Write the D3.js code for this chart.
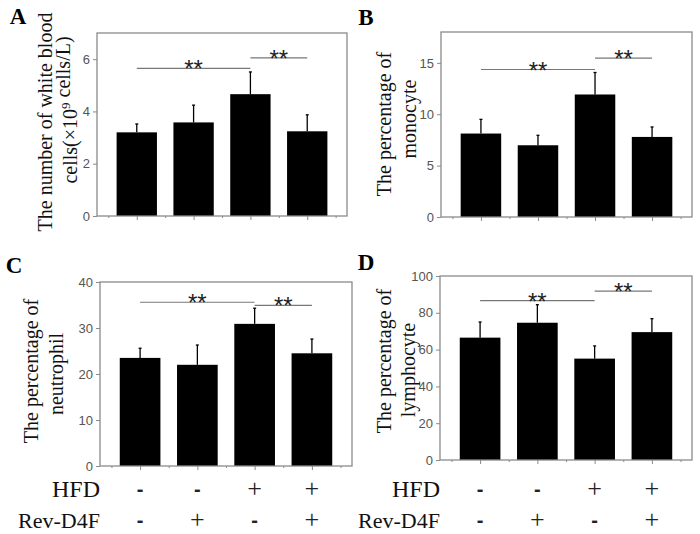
<!DOCTYPE html>
<html><head><meta charset="utf-8">
<script src="https://cdn.jsdelivr.net/npm/d3@7"></script>
<style>body{margin:0;background:#fff}svg{display:block}</style>
</head><body>
<script>
// ---- data ----
const groups = ["HFD-/Rev-", "HFD-/Rev+", "HFD+/Rev-", "HFD+/Rev+"];
const hfdSigns = ["-", "-", "+", "+"];
const revSigns = ["-", "+", "-", "+"];

const wbcMean = [3.2, 3.58, 4.66, 3.24];
const wbcErr  = [0.32, 0.66, 0.85, 0.63];
const wbcTicks = [0, 2, 4, 6];

const monoMean = [8.12, 6.98, 11.92, 7.79];
const monoErr  = [1.38, 0.97, 2.14, 0.97];
const monoTicks = [0, 5, 10, 15];

const neutMean = [23.5, 22.0, 30.9, 24.5];
const neutErr  = [2.1, 4.3, 3.4, 3.1];
const neutTicks = [0, 10, 20, 30, 40];

const lymphMean = [66.5, 74.6, 55.1, 69.5];
const lymphErr  = [8.5, 9.8, 6.9, 7.3];
const lymphTicks = [0, 20, 40, 60, 80, 100];

// significance brackets: [from group, to group, value level]
const wbcSig = [[0, 2, 5.65], [2, 3, 6.05]];
const monoSig = [[0, 2, 14.35], [2, 3, 15.45]];
const neutSig = [[0, 2, 35.6], [2, 3, 34.9]];
const lymphSig = [[0, 2, 86.6], [2, 3, 91.8]];

const panels = [
  {letter: "A", mean: wbcMean, err: wbcErr, ticks: wbcTicks, ymax: 7, sig: wbcSig,
   title: [["The number of white blood"], ["cells(×10", {sup: "9"}, " cells/L)"]],
   box: {l: 97, r: 347, t: 33, b: 216}, letterPos: [18, 24], titleX: [52, 77], titleY: [122, 110]},
  {letter: "B", mean: monoMean, err: monoErr, ticks: monoTicks, ymax: 18, sig: monoSig,
   title: [["The percentage of"], ["monocyte"]],
   box: {l: 441, r: 692, t: 32, b: 217}, letterPos: [366, 25], titleX: [391, 416], titleY: [124, 119]},
  {letter: "C", mean: neutMean, err: neutErr, ticks: neutTicks, ymax: 40, sig: neutSig,
   title: [["The percentage of"], ["neutrophil"]],
   box: {l: 100, r: 352, t: 282, b: 466}, letterPos: [14, 273], titleX: [38, 63], titleY: [371, 374]},
  {letter: "D", mean: lymphMean, err: lymphErr, ticks: lymphTicks, ymax: 100, sig: lymphSig,
   title: [["The percentage of"], ["lymphocyte"]],
   box: {l: 440, r: 692, t: 276, b: 460}, letterPos: [366, 270], titleX: [391, 415], titleY: [361, 370]}
];

const W = 700, H = 534;
const svg = d3.select("body").append("svg").attr("width", W).attr("height", H);
const frameColor = "#8a8a8a";
const serif = "'Liberation Serif','Times New Roman',serif";
const sans = "'Liberation Sans',Arial,sans-serif";

panels.forEach((p, pi) => {
  const g = svg.append("g");
  const x = d3.scaleLinear().domain([-0.7, 3.7]).range([p.box.l, p.box.r]);
  const y = d3.scaleLinear().domain([0, p.ymax]).range([p.box.b, p.box.t]);
  const step = x(1) - x(0);
  const bw = step * 0.71;

  // bars
  g.selectAll("rect.bar").data(p.mean).join("rect")
    .attr("x", (d, i) => x(i) - bw / 2).attr("width", bw)
    .attr("y", d => y(d)).attr("height", d => y(0) - y(d))
    .attr("fill", "#000");
  // error bars (upper only)
  p.mean.forEach((m, i) => {
    g.append("line").attr("x1", x(i)).attr("x2", x(i))
      .attr("y1", y(m)).attr("y2", y(m + p.err[i]))
      .attr("stroke", "#000").attr("stroke-width", 1.3);
    g.append("line").attr("x1", x(i) - 1.5).attr("x2", x(i) + 1.5)
      .attr("y1", y(m + p.err[i])).attr("y2", y(m + p.err[i]))
      .attr("stroke", "#000").attr("stroke-width", 1.3);
  });

  // frame
  g.append("rect").attr("x", p.box.l).attr("y", p.box.t)
    .attr("width", p.box.r - p.box.l).attr("height", p.box.b - p.box.t)
    .attr("fill", "none").attr("stroke", frameColor).attr("stroke-width", 1.3);

  // y axis
  const ya = d3.axisLeft(y).tickValues(p.ticks).tickSize(4).tickPadding(3).tickFormat(d3.format("d"));
  const yg = g.append("g").attr("transform", `translate(${p.box.l},0)`).call(ya);
  yg.select(".domain").remove();
  yg.selectAll("line").attr("stroke", frameColor);
  yg.selectAll("text").attr("font-family", sans).attr("font-size", 13).attr("fill", "#555");

  // x axis ticks (major at bars, minor between)
  const xa = d3.axisBottom(x).tickValues([0, 1, 2, 3]).tickSize(4).tickFormat("");
  const xg = g.append("g").attr("transform", `translate(0,${p.box.b})`).call(xa);
  xg.select(".domain").remove();
  xg.selectAll("line").attr("stroke", frameColor);
  const xm = d3.axisBottom(x).tickValues([-0.5, 0.5, 1.5, 2.5, 3.5]).tickSize(2).tickFormat("");
  const xmg = g.append("g").attr("transform", `translate(0,${p.box.b})`).call(xm);
  xmg.select(".domain").remove();
  xmg.selectAll("line").attr("stroke", frameColor);

  // significance
  p.sig.forEach(s => {
    const yy = y(s[2]);
    g.append("line").attr("x1", x(s[0])).attr("x2", x(s[1]))
      .attr("y1", yy).attr("y2", yy).attr("stroke", "#777").attr("stroke-width", 1.2);
    g.append("text").attr("x", (x(s[0]) + x(s[1])) / 2).attr("y", yy + 9)
      .attr("text-anchor", "middle").attr("font-family", sans).attr("font-size", 24)
      .attr("fill", "#222").text("**");
  });

  // letter
  g.append("text").attr("x", p.letterPos[0]).attr("y", p.letterPos[1])
    .attr("text-anchor", "middle").attr("font-family", serif).attr("font-weight", "bold")
    .attr("font-size", 23).text(p.letter);

  // y title
  p.title.forEach((line, li) => {
    const t = g.append("text")
      .attr("transform", `translate(${p.titleX[li]},${p.titleY[li]}) rotate(-90)`)
      .attr("text-anchor", "middle").attr("font-family", serif).attr("font-size", 20)
      .attr("fill", "#111");
    line.forEach(part => {
      if (typeof part === "string") t.append("tspan").text(part);
      else {
        t.append("tspan").attr("dy", -7).attr("font-size", 13).text(part.sup);
        t.append("tspan").attr("dy", 7).text("");
      }
    });
  });

  // treatment rows for bottom panels
  if (pi >= 2) {
    const rows = [["HFD", hfdSigns, 497, 24], ["Rev-D4F", revSigns, 528, 22]];
    rows.forEach(r => {
      g.append("text").attr("x", p.box.l).attr("y", r[2]).attr("text-anchor", "end")
        .attr("font-family", serif).attr("font-size", r[3]).attr("fill", "#111").text(r[0]);
      g.selectAll(null).data(r[1]).join("text")
        .attr("x", (d, i) => x(i)).attr("y", d => d === "-" ? r[2] - 1 : r[2])
        .attr("text-anchor", "middle").attr("font-family", d => d === "-" ? sans : serif)
        .attr("font-weight", d => d === "-" ? "bold" : "normal")
        .attr("font-size", d => d === "-" ? 20 : 26).attr("fill", "#222")
        .text(d => d);
    });
  }
});
</script>
</body></html>
